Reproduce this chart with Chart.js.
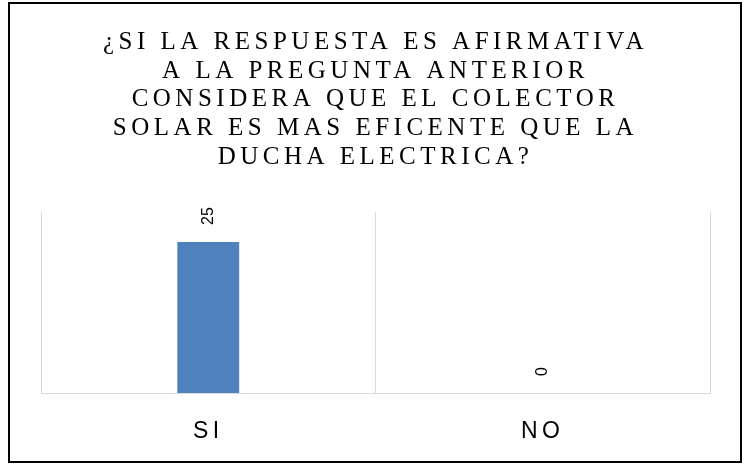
<!DOCTYPE html>
<html>
<head>
<meta charset="utf-8">
<script src="https://cdn.jsdelivr.net/npm/chart.js@4/dist/chart.umd.min.js"></script>
<style>
  html, body { margin: 0; padding: 0; background: #fff; }
  #wrap { width: 745px; height: 466px; }
</style>
</head>
<body>
<div id="wrap"><canvas id="encuestaChart"></canvas></div>
<script>
const titleLines = [
  '¿SI LA RESPUESTA ES AFIRMATIVA',
  'A LA PREGUNTA ANTERIOR',
  'CONSIDERA QUE EL COLECTOR',
  'SOLAR ES MAS EFICENTE QUE LA',
  'DUCHA ELECTRICA?'
];
const categories = ['SI', 'NO'];
const respuestas = [25, 0];

// white page + black frame
const frame = {
  id: 'frame',
  beforeDraw(chart) {
    const ctx = chart.ctx;
    ctx.save();
    ctx.fillStyle = '#fff';
    ctx.fillRect(0, 0, chart.width, chart.height);
    ctx.strokeStyle = '#000';
    ctx.lineWidth = 2;
    ctx.strokeRect(9, 3, 732, 459);
    ctx.restore();
    ctx.letterSpacing = '3px';
  },
  // wider spacing just for the title
  beforeDraw_title: null
};

const titleSpacing = {
  id: 'titleSpacing',
  beforeDraw(chart) { chart.ctx.letterSpacing = '4.5px'; },
  beforeDatasetsDraw(chart) { chart.ctx.letterSpacing = '3px'; }
};

// value labels rotated above each bar
const valueLabels = {
  id: 'valueLabels',
  afterDatasetsDraw(chart) {
    const ctx = chart.ctx;
    const meta = chart.getDatasetMeta(0);
    meta.data.forEach((bar, i) => {
      ctx.save();
      ctx.letterSpacing = '0px';
      ctx.translate(bar.x, bar.y - 17);
      ctx.rotate(-Math.PI / 2);
      ctx.font = '16px "Liberation Sans"';
      ctx.fillStyle = '#000';
      ctx.textAlign = 'left';
      ctx.textBaseline = 'middle';
      ctx.fillText(String(respuestas[i]), 0, 0);
      ctx.restore();
    });
  }
};

new Chart(document.getElementById('encuestaChart'), {
  type: 'bar',
  data: {
    labels: categories,
    datasets: [{
      data: respuestas,
      backgroundColor: '#4F81BD',
      barPercentage: 0.185,
      categoryPercentage: 1
    }]
  },
  options: {
    responsive: true,
    maintainAspectRatio: false,
    animation: false,
    layout: { padding: { top: 28, left: 41, right: 35, bottom: 0 } },
    plugins: {
      legend: { display: false },
      tooltip: { enabled: false },
      title: {
        display: true,
        text: titleLines,
        color: '#000',
        font: { family: '"Liberation Serif"', size: 25, weight: 'normal', lineHeight: 1.15 },
        padding: { top: 0, bottom: 40 }
      }
    },
    scales: {
      y: { display: false, min: 0, max: 30 },
      x: {
        grid: { color: '#d9d9d9', drawTicks: false },
        border: { color: '#d9d9d9' },
        ticks: {
          color: '#000',
          padding: 25,
          font: { family: '"Liberation Sans"', size: 23 }
        },
        afterFit(scale) { scale.height = 73; }
      }
    }
  },
  plugins: [frame, titleSpacing, valueLabels]
});
</script>
</body>
</html>
